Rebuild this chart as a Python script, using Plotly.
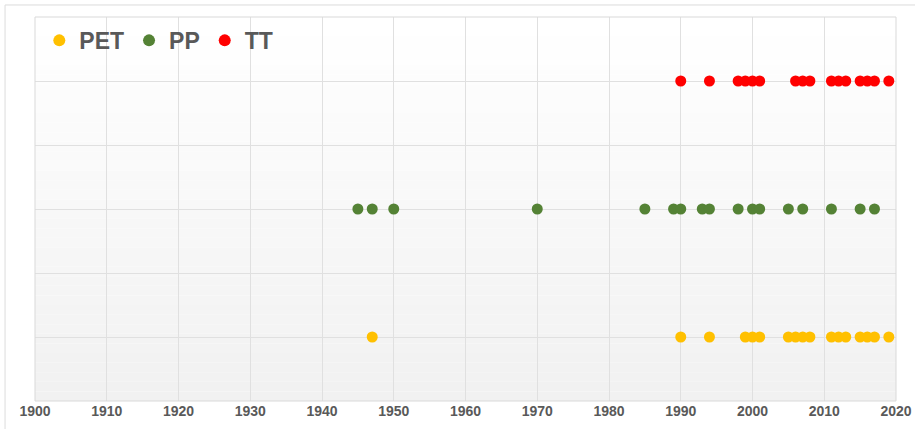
import plotly.graph_objects as go

# Data (years)
pet_years = [1947, 1990, 1994, 1999, 2000, 2001, 2005, 2006, 2007, 2008,
             2011, 2012, 2013, 2015, 2016, 2017, 2019]
pp_years = [1945, 1947, 1950, 1970, 1985, 1989, 1990, 1993, 1994, 1998,
            2000, 2001, 2005, 2007, 2011, 2015, 2017]
tt_years = [1990, 1994, 1998, 1999, 2000, 2001, 2006, 2007, 2008,
            2011, 2012, 2013, 2015, 2016, 2017, 2019]

series_names = ["PET", "PP", "TT"]
series_levels = [1, 3, 5]
series_colors = ["#FFC000", "#548235", "#FF0000"]
series_years = [pet_years, pp_years, tt_years]

x_ticks = list(range(1900, 2021, 10))

fig = go.Figure()
for name, lvl, col, yrs in zip(series_names, series_levels, series_colors, series_years):
    fig.add_trace(go.Scatter(
        x=yrs, y=[lvl] * len(yrs), mode="markers", name=name,
        marker=dict(color=col, size=11, line=dict(width=0)),
    ))

# gradient background of plot area
n = 40
shapes = []
for i in range(n):
    t = i / (n - 1)
    v = int(round(255 - (255 - 241) * t))
    shapes.append(dict(type="rect", xref="x domain", yref="y domain",
                       x0=0, x1=1, y0=1 - (i + 1) / n, y1=1 - i / n,
                       fillcolor=f"rgb({v},{v},{v})", line=dict(width=0),
                       layer="below"))
# plot frame
shapes.append(dict(type="rect", xref="x domain", yref="y domain", x0=0, x1=1, y0=0, y1=1,
                   line=dict(color="#d9d9d9", width=1), layer="above"))
# outer container border (top & left)
shapes.append(dict(type="line", xref="paper", yref="paper", x0=-0.0348, x1=1.1, y0=1.0313, y1=1.0313,
                   line=dict(color="#dcdcdc", width=1)))
shapes.append(dict(type="line", xref="paper", yref="paper", x0=-0.0348, x1=-0.0348, y0=1.0313, y1=-0.2,
                   line=dict(color="#dcdcdc", width=1)))

fig.update_layout(
    width=915, height=429,
    margin=dict(l=35, r=19, t=17, b=28),
    paper_bgcolor="white",
    plot_bgcolor="rgba(0,0,0,0)",
    shapes=shapes,
    showlegend=True,
    legend=dict(orientation="h", x=0.005, y=0.995, xanchor="left", yanchor="top",
                bgcolor="rgba(0,0,0,0)",
                font=dict(family="Liberation Sans, Arial, sans-serif", size=23, color="#595959",
                          weight="bold"),
                itemsizing="constant", tracegroupgap=0, itemwidth=30),
    xaxis=dict(range=[1900, 2020], tickvals=x_ticks, ticktext=[str(v) for v in x_ticks],
               showgrid=True, gridcolor="#e0e0e0", gridwidth=1, zeroline=False,
               showline=False, ticks="", automargin=False,
               tickfont=dict(family="Liberation Sans Narrow, Arial Narrow, Liberation Sans, sans-serif",
                             size=14, color="#595959", weight="bold")),
    yaxis=dict(range=[0, 6], dtick=1, showgrid=True, gridcolor="#e0e0e0", gridwidth=1,
               zeroline=False, showticklabels=False, ticks="", showline=False),
)

fig.write_html("out.html", config={"displayModeBar": False},
               post_script="document.body.style.margin='0';")
